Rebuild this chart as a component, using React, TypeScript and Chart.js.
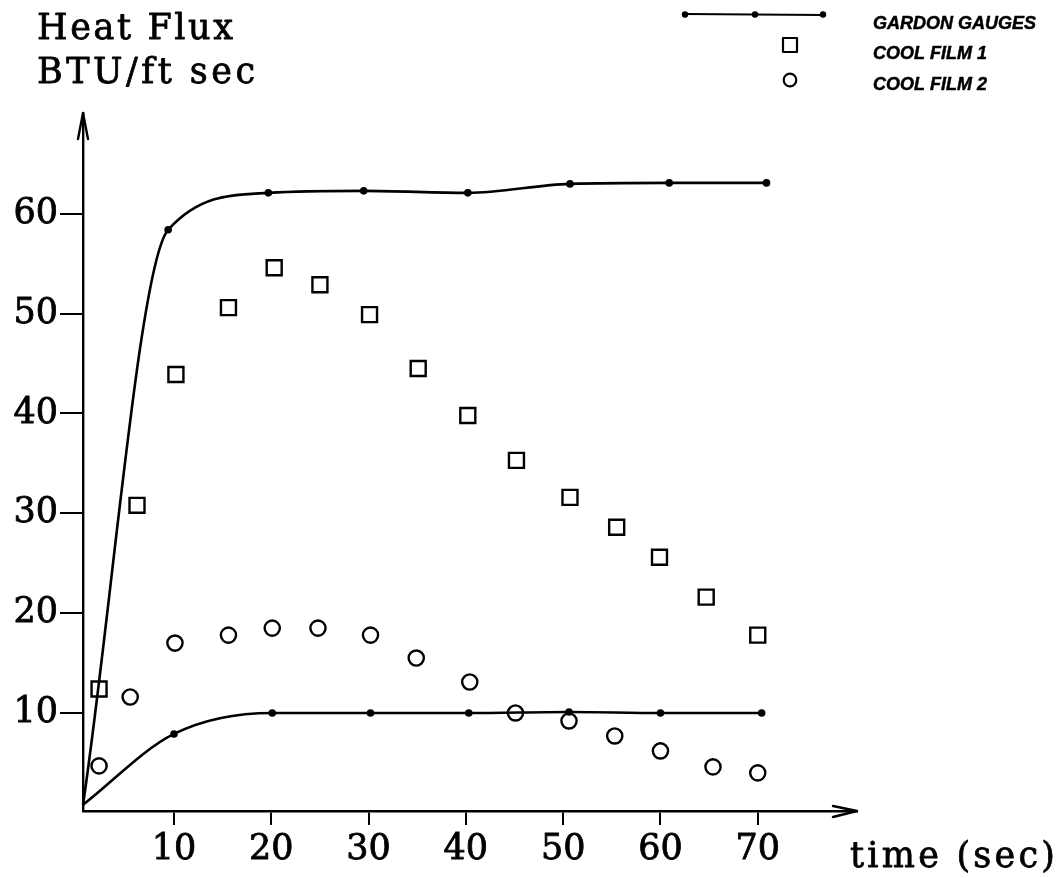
import React, { useEffect, useRef } from "react";
import { Chart, registerables } from "chart.js";

Chart.register(...registerables);

// ---- data ----
const gardonUpperX = [0.65, 9.4, 19.7, 29.5, 40.2, 50.7, 60.9, 70.9];
const gardonUpperY = [0.8, 58.4, 62.1, 62.3, 62.1, 63.0, 63.1, 63.1];

const gardonLowerX = [0.65, 10.0, 20.1, 30.2, 40.3, 50.6, 60.0, 70.4];
const gardonLowerY = [0.8, 7.9, 10.0, 10.0, 10.0, 10.1, 10.0, 10.0];

const film1X = [2.3, 6.2, 10.2, 15.6, 20.3, 25.0, 30.1, 35.1, 40.2, 45.2, 50.7, 55.5, 59.9, 64.7, 70.0];
const film1Y = [12.4, 30.8, 43.9, 50.6, 54.6, 52.9, 49.9, 44.5, 39.8, 35.3, 31.6, 28.6, 25.6, 21.6, 17.8];

const film2X = [2.3, 5.5, 10.1, 15.6, 20.1, 24.8, 30.2, 34.9, 40.4, 45.1, 50.6, 55.3, 60.0, 65.4, 70.0];
const film2Y = [4.7, 11.6, 17.0, 17.8, 18.5, 18.5, 17.8, 15.5, 13.1, 10.0, 9.2, 7.7, 6.2, 4.6, 4.0];

const xTicks = [10, 20, 30, 40, 50, 60, 70];
const yTicks = [10, 20, 30, 40, 50, 60];

const yTitleLines = ["Heat Flux", "BTU/ft sec"];
const xTitle = "time (sec)";
const legendLabels = ["GARDON GAUGES", "COOL FILM 1", "COOL FILM 2"];

const toPoints = (xs: number[], ys: number[]) => xs.map((x, i) => ({ x, y: ys[i] }));

const SERIF = "'DejaVu Serif', serif";

function fitText(ctx: CanvasRenderingContext2D, text: string, x: number, y: number, width: number) {
  (ctx as any).letterSpacing = "0px";
  const w = ctx.measureText(text).width;
  const ls = (width - w) / Math.max(1, text.length - 1);
  (ctx as any).letterSpacing = ls + "px";
  ctx.fillText(text, x, y);
  ctx.strokeText(text, x, y);
  (ctx as any).letterSpacing = "0px";
}

const decorPlugin = {
  id: "decor",
  afterDraw(chart: any) {
    const { ctx, chartArea } = chart;
    const { left, right, top, bottom } = chartArea;
    ctx.save();
    ctx.strokeStyle = "#000";
    ctx.fillStyle = "#000";
    ctx.lineWidth = 2.4;
    ctx.lineCap = "round";
    ctx.lineJoin = "round";
    // axis arrows
    ctx.beginPath();
    ctx.moveTo(left - 5, top + 26);
    ctx.lineTo(left, top);
    ctx.lineTo(left + 5, top + 26);
    ctx.stroke();
    ctx.beginPath();
    ctx.moveTo(right - 24, bottom - 5);
    ctx.lineTo(right, bottom);
    ctx.lineTo(right - 24, bottom + 6);
    ctx.stroke();

    // axis titles
    ctx.font = `35px ${SERIF}`;
    ctx.textAlign = "left";
    ctx.textBaseline = "alphabetic";
    ctx.lineWidth = 0.8;
    fitText(ctx, yTitleLines[0], 37, 39, 196);
    fitText(ctx, yTitleLines[1], 37, 83, 218);
    fitText(ctx, xTitle, 850, 867, 205);

    // legend
    const ds = chart.data.datasets;
    ctx.lineWidth = 2;
    ctx.beginPath();
    ctx.moveTo(685, 14);
    ctx.lineTo(823, 15);
    ctx.stroke();
    [685, 755, 823].forEach((px) => {
      ctx.beginPath();
      ctx.arc(px, 14.5, 3.2, 0, Math.PI * 2);
      ctx.fill();
    });
    ctx.lineWidth = 2.2;
    ctx.strokeStyle = ds[2].pointBorderColor;
    ctx.strokeRect(783, 38, 14, 14);
    ctx.beginPath();
    ctx.arc(790, 80, 6.3, 0, Math.PI * 2);
    ctx.stroke();

    ctx.font = "italic bold 18px 'Liberation Sans', Arial, sans-serif";
    ctx.lineWidth = 0.5;
    [29, 59, 90].forEach((yy, i) => {
      ctx.fillText(legendLabels[i], 873, yy);
      ctx.strokeText(legendLabels[i], 873, yy);
    });
    ctx.restore();
  },
};

export default function App() {
  const ref = useRef<HTMLCanvasElement | null>(null);

  useEffect(() => {
    if (!ref.current) return;
    const lineCommon = {
      showLine: true,
      borderColor: "#000",
      borderWidth: 2.6,
      cubicInterpolationMode: "monotone" as const,
      pointBackgroundColor: "#000",
      pointBorderColor: "#000",
      pointBorderWidth: 0,
      pointRadius: (c: any) => (c.dataIndex === 0 ? 0 : 3.8),
      fill: false,
    };
    const tickFont = { family: SERIF, size: 35 };
    const chart = new Chart(ref.current, {
      type: "scatter",
      data: {
        datasets: [
          { label: legendLabels[0], data: toPoints(gardonUpperX, gardonUpperY), ...lineCommon },
          { label: legendLabels[0] + " (lower)", data: toPoints(gardonLowerX, gardonLowerY), ...lineCommon },
          {
            label: legendLabels[1],
            data: toPoints(film1X, film1Y),
            showLine: false,
            pointStyle: "rect",
            pointRadius: 10.6,
            pointBorderWidth: 2.4,
            pointBorderColor: "#000",
            pointBackgroundColor: "rgba(0,0,0,0)",
          },
          {
            label: legendLabels[2],
            data: toPoints(film2X, film2Y),
            showLine: false,
            pointStyle: "circle",
            pointRadius: 7.6,
            pointBorderWidth: 2.4,
            pointBorderColor: "#000",
            pointBackgroundColor: "rgba(0,0,0,0)",
          },
        ] as any,
      },
      options: {
        responsive: false,
        animation: false,
        devicePixelRatio: 1,
        clip: false as any,
        layout: { padding: { top: 113, right: 207, left: 0, bottom: 0 } },
        plugins: {
          legend: { display: false },
          title: { display: false },
          tooltip: { enabled: false },
        },
        scales: {
          x: {
            type: "linear",
            min: 0.65,
            max: 80.2,
            afterBuildTicks: (axis: any) => {
              axis.ticks = xTicks.map((v) => ({ value: v }));
            },
            afterFit: (s: any) => {
              s.height = 67;
            },
            border: { display: true, color: "#000", width: 2.4 },
            grid: {
              drawOnChartArea: false,
              drawTicks: true,
              tickLength: 14,
              lineWidth: 2,
              color: "#000",
            },
            ticks: {
              color: "#000",
              font: tickFont,
              textStrokeColor: "#000",
              textStrokeWidth: 0.8,
              padding: 4,
              maxRotation: 0,
              autoSkip: false,
            } as any,
          },
          y: {
            type: "linear",
            min: 0.18,
            max: 70.1,
            afterBuildTicks: (axis: any) => {
              axis.ticks = yTicks.map((v) => ({ value: v }));
            },
            afterFit: (s: any) => {
              s.width = 83;
            },
            border: { display: true, color: "#000", width: 2.4 },
            grid: {
              drawOnChartArea: false,
              drawTicks: true,
              tickLength: 23,
              lineWidth: 2,
              color: "#000",
            },
            ticks: {
              color: "#000",
              font: tickFont,
              textStrokeColor: "#000",
              textStrokeWidth: 0.8,
              padding: 2,
              autoSkip: false,
            } as any,
          },
        },
      },
      plugins: [decorPlugin],
    });
    return () => chart.destroy();
  }, []);

  return (
    <div style={{ position: "fixed", left: 0, top: 0, width: 1064, height: 878, background: "#fff" }}>
      <canvas ref={ref} width={1064} height={878} style={{ display: "block" }} />
    </div>
  );
}
